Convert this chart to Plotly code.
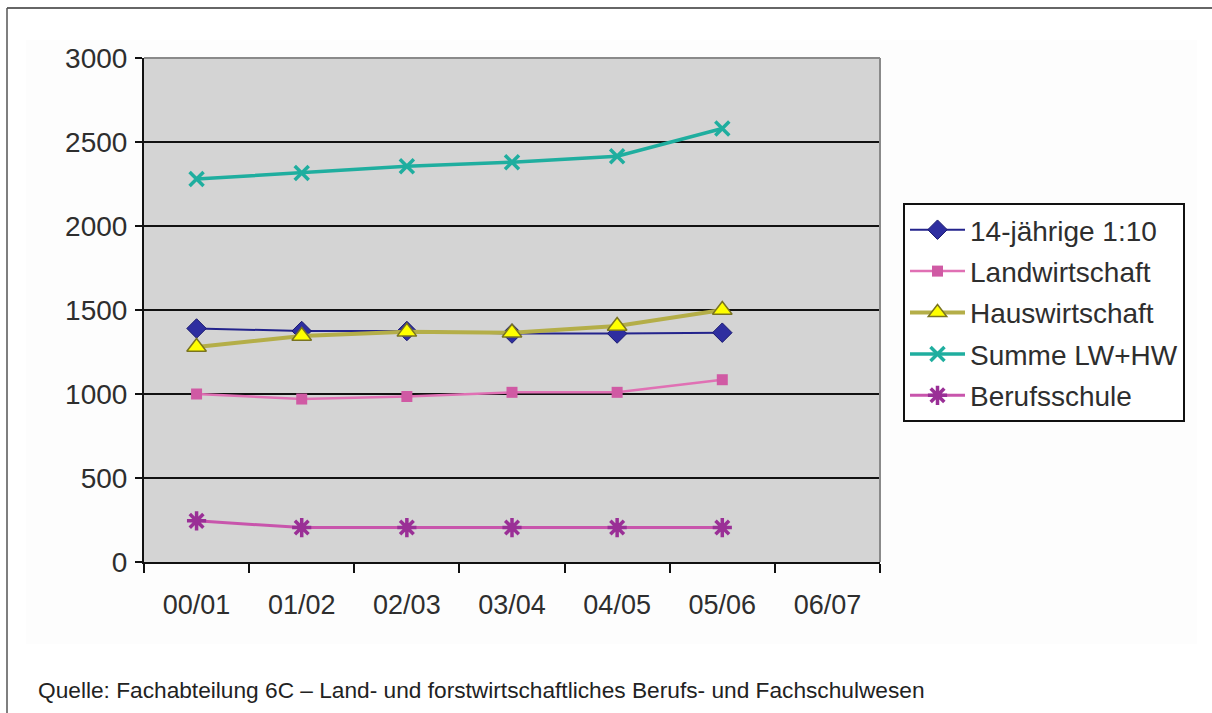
import plotly.graph_objects as go

# School years (category axis)
years = ["00/01", "01/02", "02/03", "03/04", "04/05", "05/06", "06/07"]

# Series values per school year (06/07 has no data yet)
vierzehnjaehrige = [1390, 1375, 1375, 1360, 1360, 1365]
landwirtschaft = [1000, 970, 985, 1010, 1010, 1085]
hauswirtschaft = [1280, 1345, 1370, 1365, 1405, 1500]
summe_lw_hw = [2280, 2315, 2355, 2380, 2415, 2580]
berufsschule = [245, 205, 205, 205, 205, 205]

y_ticks = [0, 500, 1000, 1500, 2000, 2500, 3000]

FONT = "Liberation Sans, Arial, Helvetica, sans-serif"

fig = go.Figure()

series = [
    ("14-jährige 1:10", vierzehnjaehrige, "#23238c", 2,
     dict(symbol="diamond", size=15, color="#2e2ea0", line=dict(color="#1a1a70", width=1))),
    ("Landwirtschaft", landwirtschaft, "#e070b4", 2.5,
     dict(symbol="square", size=11, color="#d05aa4", line=dict(color="#d05aa4", width=0))),
    ("Hauswirtschaft", hauswirtschaft, "#b4ae48", 4,
     dict(symbol="triangle-up", size=17, color="#ffff00", line=dict(color="#7a7420", width=1.5))),
    ("Summe LW+HW", summe_lw_hw, "#1fae9f", 3.5,
     dict(symbol="x-thin", size=14, color="#1fae9f", line=dict(color="#1fae9f", width=3.5))),
    ("Berufsschule", berufsschule, "#c855ac", 3,
     dict(symbol="asterisk", size=16, color="#9a2f96", line=dict(color="#9a2f96", width=3.5))),
]

for i, (name, vals, lcolor, lwidth, marker) in enumerate(series):
    fig.add_trace(go.Scatter(
        x=years[:len(vals)], y=vals, name=name, mode="lines+markers",
        line=dict(color=lcolor, width=lwidth), marker=marker,
        legendgroup=f"g{i}",
    ))

# Fixed plot geometry in pixels
W, H = 1212, 713
L, R, T, B = 144, 880, 58, 562
pw, ph = R - L, B - T


def px(x):
    return (x - L) / pw


def py(y):
    return (B - y) / ph


shapes = [
    # faint panel behind the chart
    dict(type="rect", xref="paper", yref="paper", layer="below",
         x0=px(26), x1=px(1197), y0=py(644), y1=py(40),
         fillcolor="#fdfdfd", line=dict(width=0)),
    # grey plot area
    dict(type="rect", xref="paper", yref="paper", layer="below",
         x0=0, x1=1, y0=0, y1=1, fillcolor="#d4d4d4", line=dict(width=0)),
    # grey frame on top and right of the plot area
    dict(type="line", xref="paper", yref="paper", x0=0, x1=1, y0=1, y1=1,
         line=dict(color="#8a8a8a", width=2)),
    dict(type="line", xref="paper", yref="paper", x0=1, x1=1, y0=0, y1=1,
         line=dict(color="#8a8a8a", width=2)),
    # page border (top and left)
    dict(type="line", xref="paper", yref="paper", x0=px(7), x1=px(1215),
         y0=py(8), y1=py(8), line=dict(color="#333333", width=1.5)),
    dict(type="line", xref="paper", yref="paper", x0=px(7), x1=px(7),
         y0=py(8), y1=py(720), line=dict(color="#555555", width=1.5)),
]

fig.update_layout(
    width=W, height=H,
    margin=dict(l=L, r=W - R, t=T, b=H - B, autoexpand=False),
    paper_bgcolor="white",
    plot_bgcolor="#d4d4d4",
    font=dict(family=FONT, color="#2e2e2e", size=27),
    showlegend=True,
    legend=dict(
        x=px(903), y=py(203), xanchor="left", yanchor="top",
        bgcolor="white", bordercolor="#111111", borderwidth=2,
        font=dict(family=FONT, size=28, color="#2e2e2e"),
        tracegroupgap=2, itemwidth=55,
    ),
    xaxis=dict(
        type="category", categoryorder="array", categoryarray=years,
        tickvals=years, range=[-0.5, 6.5],
        showline=True, linecolor="#111111", linewidth=2,
        ticks="outside", tickson="boundaries", ticklen=9, tickwidth=2, tickcolor="#111111",
        showgrid=False, zeroline=False,
        tickfont=dict(family=FONT, size=27, color="#2e2e2e"),
        ticklabelstandoff=18,
    ),
    yaxis=dict(
        range=[0, 3000], tickvals=y_ticks,
        showline=True, linecolor="#111111", linewidth=2,
        ticks="outside", ticklen=7, tickwidth=2, tickcolor="#111111",
        showgrid=True, gridcolor="#111111", gridwidth=2,
        zeroline=False,
        tickfont=dict(family=FONT, size=28, color="#2e2e2e"),
        ticklabelstandoff=2,
    ),
    shapes=shapes,
    annotations=[dict(
        xref="paper", yref="paper", x=px(36), y=py(690),
        xanchor="left", yanchor="middle", showarrow=False,
        text="Quelle: Fachabteilung 6C – Land- und forstwirtschaftliches Berufs- und Fachschulwesen",
        font=dict(family="Liberation Sans Narrow, Arial Narrow, " + FONT, size=22.7, color="#222222"),
    )],
)

fig.write_html("out.html")
